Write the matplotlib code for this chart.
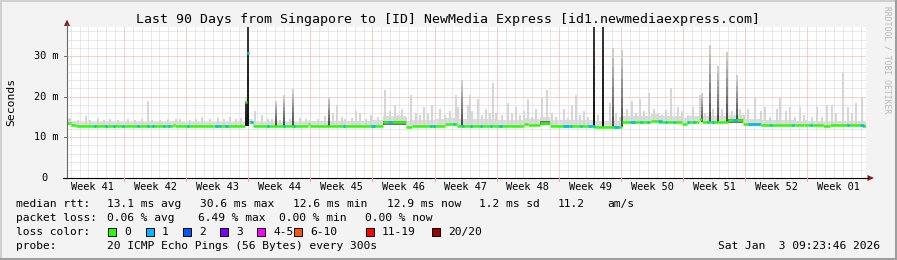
import matplotlib
matplotlib.use("Agg")
import matplotlib.pyplot as plt
import numpy as np
from matplotlib.patches import Rectangle, Polygon

plt.rcParams['font.family'] = 'DejaVu Sans Mono'

W, H = 897, 260

# ---- data, x in days since the start of the 90 day window ----
week_labels = ['Week 41', 'Week 42', 'Week 43', 'Week 44', 'Week 45', 'Week 46', 'Week 47',
               'Week 48', 'Week 49', 'Week 50', 'Week 51', 'Week 52', 'Week 01']
first_week_start = 6.41

# median rtt (ms), step function starting at each day
median_day = [0.0, 0.45, 1.0, 11.9, 12.2, 16.4, 20.1, 20.33, 20.5, 21.0, 27.1, 27.4,
              35.6, 38.2, 38.9, 42.6, 43.9, 51.5, 51.9, 53.3, 54.4, 59.4, 62.5, 65.8,
              66.6, 69.3, 69.8, 71.2, 71.5, 74.4, 76.2, 78.2, 82.0, 83.0, 85.2, 86.0,
              88.0, 89.6]
median_ms = [13.6, 13.0, 12.7, 13.0, 12.7, 12.8, 18.7, 30.6, 13.7, 12.85, 13.3, 12.85,
             13.7, 12.5, 12.85, 13.2, 12.85, 13.3, 13.0, 13.6, 12.85, 12.5, 13.75, 14.1,
             13.75, 13.3, 13.75, 14.5, 13.75, 14.2, 13.35, 13.1, 12.9, 13.1, 12.8, 13.1,
             12.9, 12.8]

# spots where 1 of 20 pings was lost (start day, length in days)
loss1_day = [3.04, 4.28, 5.18, 6.20, 7.88, 9.01, 9.57, 10.81, 11.38, 13.52, 16.67, 17.12,
             17.80, 20.33, 20.61, 22.53, 24.33, 25.46, 31.09, 34.24, 36.16, 40.89, 41.23,
             43.48, 44.49, 45.39, 46.52, 47.65, 48.66, 55.87, 56.66, 57.78, 58.69, 59.25,
             61.61, 63.42, 64.54, 65.33, 66.57, 67.36, 68.26, 69.84, 70.51, 72.09, 72.65,
             75.02, 76.71, 79.18, 81.66, 83.69, 87.86, 89.32]
loss1_len = [0.2, 0.2, 0.2, 0.2, 0.2, 0.2, 0.2, 0.2, 0.2, 0.2, 0.3, 0.2,
             0.3, 0.17, 0.3, 0.2, 0.2, 0.2, 0.2, 0.4, 0.4, 0.2, 0.2,
             0.2, 0.2, 0.2, 0.2, 0.2, 0.3, 0.7, 0.2, 0.2, 0.4, 0.2,
             0.6, 0.6, 0.2, 0.2, 0.4, 0.2, 0.2, 0.2, 0.2, 0.2, 0.2,
             0.4, 1.35, 0.2, 0.2, 0.2, 0.2, 0.5]

# light smoke: top of the ping spread (ms)
smoke_day = [0.34, 1.24, 2.14, 2.59, 3.49, 4.17, 4.84, 5.74,
             6.87, 7.66, 8.45, 9.12, 9.57, 10.48, 11.38, 12.28, 12.73,
             13.85, 14.53, 15.21, 16.11, 17.01, 17.68, 18.36, 19.04, 19.60,
             21.18, 21.96, 22.64, 23.09, 23.99, 25.12, 26.24, 26.92,
             28.27, 29.06, 29.96, 30.41, 30.98, 31.31, 32.10, 32.55, 33.00, 33.68, 34.24,
             35.03, 35.82, 36.38, 36.95, 37.28, 37.73, 38.18, 38.75, 39.31, 39.76, 40.21, 40.66, 41.11,
             42.01, 42.58, 43.14, 43.82, 44.04, 45.17, 45.39, 45.62, 46.29, 46.74, 47.20, 47.65, 47.98, 48.32,
             49.00, 49.67, 50.12, 50.57, 51.03, 51.48, 51.93, 52.38, 52.83, 53.50, 54.07, 54.63, 55.08,
             55.98, 56.43, 56.88, 57.33, 57.78, 58.23, 58.69, 59.81, 61.16, 61.84, 62.29,
             63.08, 63.64, 64.09, 64.54, 64.99, 65.56, 66.12, 66.57, 67.02, 67.47, 68.03, 68.82, 69.27,
             69.95, 70.51, 71.30, 71.86, 72.76, 73.78, 74.90, 75.80, 76.25,
             76.71, 77.49, 78.17, 78.62, 79.18, 79.97, 80.31, 80.99, 81.44, 82.00, 82.56, 83.01,
             83.92, 84.48, 85.04, 85.60, 86.17, 86.62, 87.41, 87.97, 88.42, 88.87, 89.55]
smoke_top = [14.6, 14.2, 15.3, 14.3, 14.8, 14.3, 14.5, 14.2,
             14.4, 14.3, 14.6, 19.0, 14.3, 14.2, 14.5, 14.4, 14.6,
             14.3, 14.6, 15.0, 14.4, 14.7, 14.4, 15.0, 14.4, 14.8,
             16.5, 15.5, 14.5, 14.6, 14.3, 14.5, 14.8, 14.4,
             14.6, 15.2, 16.0, 18.0, 15.0, 14.6, 14.8, 16.5, 16.0, 14.5, 15.5,
             15.0, 21.5, 16.5, 18.0, 15.5, 17.0, 15.0, 20.5, 16.0, 15.5, 17.5, 15.8, 18.0,
             17.0, 15.5, 16.5, 20.5, 17.5, 18.0, 20.4, 16.5, 19.5, 15.5, 17.0, 16.0, 23.3, 16.0,
             15.5, 18.5, 16.0, 17.5, 15.5, 16.5, 19.5, 15.0, 17.0, 20.0, 21.7, 16.0, 15.0,
             17.0, 14.8, 18.0, 20.4, 15.5, 16.5, 15.0, 15.5, 18.5, 16.0, 15.0,
             17.0, 19.0, 16.0, 19.5, 16.5, 21.0, 17.0, 16.0, 15.5, 16.8, 22.0, 17.5, 16.5,
             15.5, 17.5, 20.4, 16.0, 17.0, 17.0, 16.5, 17.0, 15.5,
             17.0, 20.0, 16.5, 17.5, 15.0, 17.0, 19.7, 16.5, 17.5, 15.0, 17.5, 15.5,
             15.0, 17.5, 15.0, 18.0, 18.0, 16.0, 26.0, 17.5, 16.0, 18.5, 20.0]

# thin smoke band just above the median, one value per week column
band_height = [1.1, 1.0, 1.0, 0.9, 1.2, 1.5, 1.6, 1.5, 1.4, 1.6, 1.4, 1.1, 1.0]

# dense smoke spikes (many pings high), drawn up from the surrounding baseline
spike_day = [20.16, 20.39, 23.54, 24.44, 25.46, 29.51, 44.49, 59.36, 60.37, 61.50,
             62.51, 71.53, 72.43, 73.33, 74.34, 75.47]
spike_top = [18.7, 37.0, 19.0, 20.3, 21.8, 20.0, 24.0, 37.0, 37.0, 32.0,
             31.5, 20.9, 32.7, 27.4, 31.0, 25.3]
spike_black = [1, 1, 0, 0, 0, 0, 0, 1, 1, 0, 0, 0, 0, 0, 0, 0]

# darker smoke hugging the median on raised stretches
dark_start = [35.6, 53.3, 74.4]
dark_end = [38.2, 54.4, 76.2]

loss_labels = ['0', '1', '2', '3', '4-5', '6-10', '11-19', '20/20']
loss_colors = ['#26ff00', '#00b8ff', '#0059ff', '#7e00ff', '#ff00ff', '#ff5500', '#ff0000', '#a00000']


def median_at(d):
    i = np.searchsorted(median_day, d, side='right') - 1
    return median_ms[max(i, 0)]


week_edges = [0.0] + [first_week_start + 7 * k for k in range(12)] + [90.0]

fig = plt.figure(figsize=(W / 100, H / 100), dpi=100, facecolor='#f3f3f3')

ax = fig.add_axes([67 / W, 1 - 178 / H, 799 / W, 151 / H])
ax.set_facecolor('white')
ax.set_xlim(0, 90)
ax.set_ylim(0, 37.1)
for s in ax.spines.values():
    s.set_visible(False)
ax.set_xticks([])
ax.set_yticks([])

# grid
dot = (0, (1, 1))
for d in np.arange(first_week_start % 1, 90, 1.0):
    is_week = abs(((d - first_week_start) / 7) - round((d - first_week_start) / 7)) < 1e-6
    ax.axvline(d, color='#f2a0a0' if is_week else '#d4d4d4', lw=0.72, ls=dot, zorder=1)
for v in range(2, 38, 2):
    ax.axhline(v, color='#f2a0a0' if v % 10 == 0 else '#d4d4d4', lw=0.72, ls=dot, zorder=1)

# thin smoke band
xs = sorted(set(median_day + week_edges))
lo = np.array([median_at(x) for x in xs])
hi = lo + np.array([band_height[min(np.searchsorted(week_edges, x, side='right') - 1, 12)] for x in xs])
ax.fill_between(xs, lo, hi, step='post', color='#dcdcdc', lw=0, zorder=2)

# light smoke
for d, t in zip(smoke_day, smoke_top):
    b = median_at(d)
    ax.bar(d, t - b, bottom=b, width=0.18, color='#d6d6d6', lw=0, zorder=3)

# dark smoke near the median
for a, e in zip(dark_start, dark_end):
    m = median_at(a + 0.01)
    ax.fill_between([a, e], m - 0.6, m + 0.3, color='#707070', lw=0, zorder=4)

# dense spikes, shaded darker towards the baseline
for d, t, blk in zip(spike_day, spike_top, spike_black):
    b = min(median_at(d - 0.5), median_at(d), median_at(d + 0.5))
    n = 8
    edges = np.linspace(b, t, n + 1)
    if blk:
        shades = np.linspace(0.08, 0.22, n)
        w = 0.2
    else:
        shades = np.linspace(0.3, 0.8, n)
        w = 0.17
    for k in range(n):
        ax.bar(d, edges[k + 1] - edges[k], bottom=edges[k], width=w,
               color=str(shades[k]), lw=0, zorder=4)

# median line coloured by loss, one flat segment per step
ends = median_day[1:] + [90.0]
ax.hlines(median_ms, median_day, ends, colors=loss_colors[0], lw=1.8, zorder=5)
for d, w in zip(loss1_day, loss1_len):
    m = median_at(d + 0.001)
    ax.hlines(m, d, d + w, colors=loss_colors[1], lw=1.8, zorder=6)

# ---- decorations in pixel space ----
deco = fig.add_axes([0, 0, 1, 1])
deco.set_xlim(0, W)
deco.set_ylim(H, 0)
deco.axis('off')
deco.patch.set_visible(False)

# 3d frame
deco.plot([0.5, 0.5, W - 0.5], [H, 0.5, 0.5], color='#cfcfcf', lw=1.5)
deco.plot([0.5, W - 1, W - 1], [H - 1, H - 1, 0.5], color='#9e9e9e', lw=2.2)

# axes with arrows
deco.plot([67, 67], [178, 24], color='#6a6a6a', lw=0.8)
deco.plot([63, 868], [178, 178], color='black', lw=0.8)
deco.add_patch(Polygon([[67, 19.5], [64, 26], [70, 26]], closed=True, color='#8b1a1a', lw=0))
deco.add_patch(Polygon([[874, 178], [867.5, 175], [867.5, 181]], closed=True, color='#8b1a1a', lw=0))

px_per_day = 799 / 90
for v, lab in [(10, '10 m'), (20, '20 m'), (30, '30 m')]:
    y = 178 - v * 151 / 37.1
    deco.plot([63.5, 67], [y, y], color='#6a6a6a', lw=0.7)
    deco.text(59, y, lab, ha='right', va='center', fontsize=7.4)
deco.text(47.5, 178, '0', ha='right', va='center', fontsize=7.4)

for k, lab in enumerate(week_labels):
    x0 = 67 + (first_week_start + 7 * (k - 1)) * px_per_day
    deco.text(x0 + 3.5 * px_per_day, 187, lab, ha='center', va='center', fontsize=7.4)
    if k > 0:
        deco.plot([x0, x0], [178, 181], color='#f2a0a0', lw=0.7)

deco.text(448, 19, 'Last 90 Days from Singapore to [ID] NewMedia Express [id1.newmediaexpress.com]',
          ha='center', va='center', fontsize=9.5)
deco.text(11, 102, 'Seconds', rotation=90, ha='center', va='center', fontsize=8.2)
deco.text(887, 60, 'RRDTOOL / TOBI OETIKER', rotation=270, ha='center', va='center',
          fontsize=5.8, color='#b8b8b8')

fs = 8.1
row1 = [(16, 'median rtt:'), (107, '13.1 ms avg'), (200, '30.6 ms max'), (293, '12.6 ms min'),
        (387, '12.9 ms now'), (479, '1.2 ms sd'), (558, '11.2'), (607, 'am/s')]
row2 = [(16, 'packet loss:'), (107, '0.06 % avg'), (198, '6.49 % max'), (279, '0.00 % min'),
        (365, '0.00 % now')]
for x, s in row1:
    deco.text(x, 204, s, ha='left', va='center', fontsize=fs)
for x, s in row2:
    deco.text(x, 218, s, ha='left', va='center', fontsize=fs)

deco.text(16, 232, 'loss color:', ha='left', va='center', fontsize=fs)
box_x = [108, 146, 183, 220, 257, 294, 366, 432]
for bx, lab, c in zip(box_x, loss_labels, loss_colors):
    deco.add_patch(Rectangle((bx, 228), 8, 8, facecolor=c, edgecolor='black', lw=0.7))
    deco.text(bx + 16, 232, lab, ha='left', va='center', fontsize=fs)

deco.text(16, 246, 'probe:', ha='left', va='center', fontsize=fs)
deco.text(107, 246, '20 ICMP Echo Pings (56 Bytes) every 300s', ha='left', va='center', fontsize=fs)
deco.text(880, 246, 'Sat Jan  3 09:23:46 2026', ha='right', va='center', fontsize=fs)

fig.savefig('out.png', dpi=100, facecolor=fig.get_facecolor())
